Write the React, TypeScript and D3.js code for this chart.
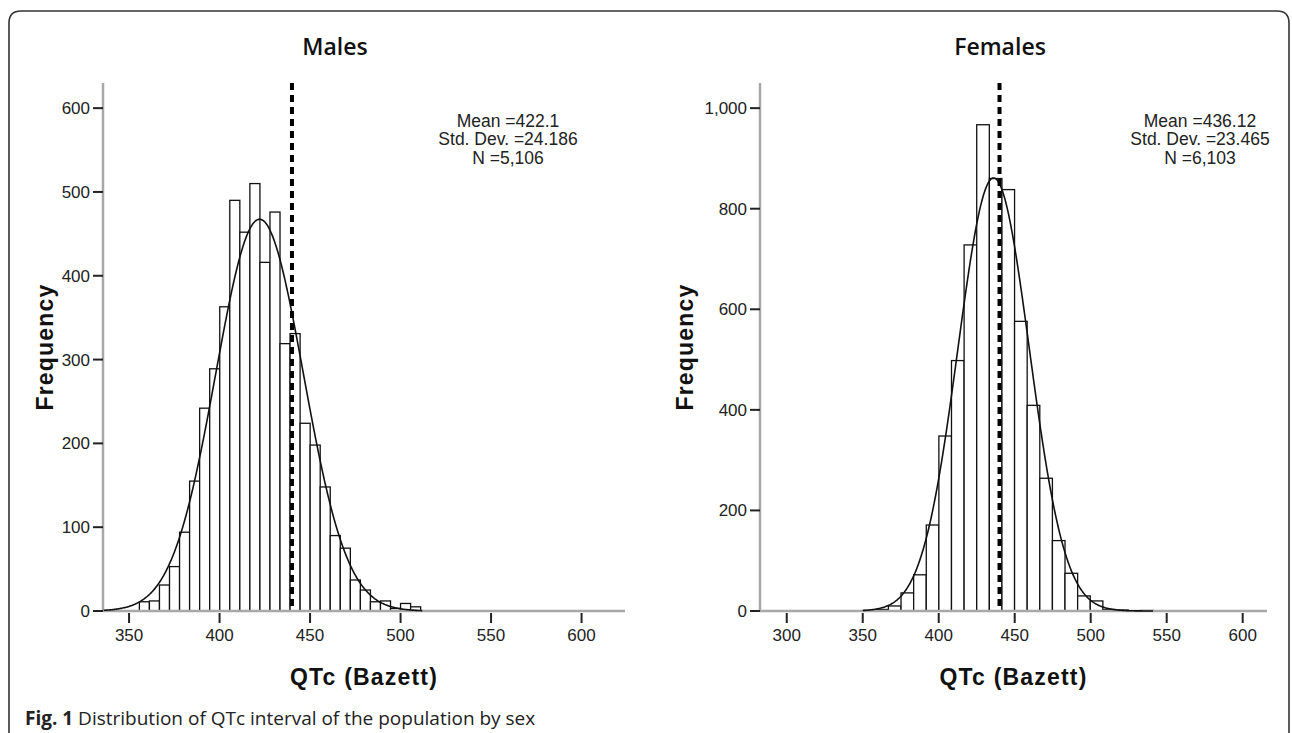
import React from "react";
import * as d3 from "d3";

const W = 1292;
const H = 733;

// histogram counts per bin
const maleBinStart = 355.7;
const maleBinWidth = 5.55;
const maleCounts = [11, 12, 31, 53, 94, 155, 242, 289, 363, 490, 452, 510, 416, 476, 319, 331, 224, 198, 148, 90, 75, 37, 25, 11, 12, 3, 9, 5];

const femaleBinStart = 350.3;
const femaleBinWidth = 8.3;
const femaleCounts = [1, 3, 10, 36, 72, 171, 348, 498, 728, 967, 860, 838, 576, 409, 264, 140, 75, 30, 20, 3, 2, 0, 1];

// mean, sd, n (used for the fitted normal curve)
const maleStats = [422.1, 24.186, 5106];
const femaleStats = [436.12, 23.465, 6103];
const maleCurveRange = [336, 512];
const femaleCurveRange = [350, 541];

const maleStatText = ["Mean =422.1", "Std. Dev. =24.186", "N =5,106"];
const femaleStatText = ["Mean =436.12", "Std. Dev. =23.465", "N =6,103"];

const maleXTicks = [350, 400, 450, 500, 550, 600];
const femaleXTicks = [300, 350, 400, 450, 500, 550, 600];
const maleYTicks = [0, 100, 200, 300, 400, 500, 600];
const femaleYTicks = [0, 200, 400, 600, 800, 1000];

const cutoff = 440;

const TOP = 83;
const BASE = 611;

type PanelProps = {
  title: string;
  titleX: number;
  left: number;
  right: number;
  xDomain: [number, number];
  yMax: number;
  xTicks: number[];
  yTicks: number[];
  binStart: number;
  binWidth: number;
  counts: number[];
  stats: number[];
  curveRange: number[];
  statText: string[];
  statX: number;
  freqX: number;
};

function Panel(p: PanelProps) {
  const x = d3.scaleLinear().domain(p.xDomain).range([p.left, p.right]);
  const y = d3.scaleLinear().domain([0, p.yMax]).range([BASE, TOP]);
  const fmt = d3.format(",");

  const [mean, sd, n] = p.stats;
  const pdf = (v: number) =>
    (n * p.binWidth) / (sd * Math.sqrt(2 * Math.PI)) * Math.exp(-((v - mean) ** 2) / (2 * sd * sd));
  const pts = d3.range(p.curveRange[0], p.curveRange[1] + 0.01, 0.5);
  const line = d3
    .line<number>()
    .x((v) => x(v))
    .y((v) => y(pdf(v)));

  const axisColor = "#a8a8a8";
  const tickFont = { fontFamily: "Liberation Sans, Arial, sans-serif", fontSize: 17 };

  return (
    <g>
      <text x={p.titleX} y={55} textAnchor="middle" fontFamily="Open Sans" fontWeight={600} fontSize={23} fill="#111">
        {p.title}
      </text>

      {/* bars */}
      {p.counts.map((c, i) => {
        const x0 = p.binStart + i * p.binWidth;
        if (c <= 0) return null;
        return (
          <rect
            key={i}
            x={x(x0)}
            y={y(c)}
            width={x(x0 + p.binWidth) - x(x0)}
            height={BASE - y(c)}
            fill="#fff"
            stroke="#111"
            strokeWidth={1.3}
          />
        );
      })}

      {/* axes */}
      <line x1={p.left} x2={p.left} y1={TOP} y2={BASE} stroke={axisColor} strokeWidth={2.5} />
      <line x1={p.left} x2={p.right} y1={BASE} y2={BASE} stroke={axisColor} strokeWidth={2.5} />

      <path d={line(pts) || ""} fill="none" stroke="#111" strokeWidth={1.6} />

      <line
        x1={x(cutoff)}
        x2={x(cutoff)}
        y1={TOP}
        y2={BASE}
        stroke="#000"
        strokeWidth={4}
        strokeDasharray="7,5"
      />

      {p.yTicks.map((t) => (
        <g key={t}>
          <line x1={p.left - 10} x2={p.left} y1={y(t)} y2={y(t)} stroke="#222" strokeWidth={2} />
          <text x={p.left - 13} y={y(t) + 6} textAnchor="end" fill="#222" {...tickFont}>
            {fmt(t)}
          </text>
        </g>
      ))}
      {p.xTicks.map((t) => (
        <g key={t}>
          <line x1={x(t)} x2={x(t)} y1={BASE + 2} y2={BASE + 12} stroke="#222" strokeWidth={2} />
          <text x={x(t)} y={641} textAnchor="middle" fill="#222" {...tickFont}>
            {t}
          </text>
        </g>
      ))}

      {p.statText.map((s, i) => (
        <text
          key={s}
          x={p.statX}
          y={126.5 + i * 18.5}
          textAnchor="middle"
          fill="#222"
          fontFamily="Liberation Sans, Arial, sans-serif"
          fontSize={17.5}
        >
          {s}
        </text>
      ))}

      <text
        x={(p.left + p.right) / 2}
        y={685}
        textAnchor="middle"
        fontFamily="Liberation Sans, Arial, sans-serif"
        fontWeight="bold"
        fontSize={23}
        letterSpacing={1.2}
        fill="#111"
      >
        QTc (Bazett)
      </text>
      <text
        transform={`translate(${p.freqX},${(TOP + BASE) / 2}) rotate(-90)`}
        textAnchor="middle"
        fontFamily="Liberation Sans, Arial, sans-serif"
        fontWeight="bold"
        fontSize={23}
        letterSpacing={1.2}
        fill="#111"
      >
        Frequency
      </text>
    </g>
  );
}

export default function App() {
  return (
    <svg
      width={W}
      height={H}
      style={{ position: "absolute", left: 0, top: 0, background: "#fff" }}
    >
      <rect width={W} height={H} fill="#fff" />
      <path
        d={`M9,${H + 2} V23 Q9,11 21,11 H1277 Q1289,11 1289,23 V${H + 2}`}
        fill="none"
        stroke="#333"
        strokeWidth={1.6}
      />
      <Panel
        title="Males"
        titleX={335}
        left={103}
        right={625}
        xDomain={[335.6, 624]}
        yMax={630}
        xTicks={maleXTicks}
        yTicks={maleYTicks}
        binStart={maleBinStart}
        binWidth={maleBinWidth}
        counts={maleCounts}
        stats={maleStats}
        curveRange={maleCurveRange}
        statText={maleStatText}
        statX={508}
        freqX={53}
      />
      <Panel
        title="Females"
        titleX={1000}
        left={760}
        right={1267}
        xDomain={[282.4, 616]}
        yMax={1050}
        xTicks={femaleXTicks}
        yTicks={femaleYTicks}
        binStart={femaleBinStart}
        binWidth={femaleBinWidth}
        counts={femaleCounts}
        stats={femaleStats}
        curveRange={femaleCurveRange}
        statText={femaleStatText}
        statX={1200}
        freqX={693}
      />
      <text x={25} y={725} fontFamily="Open Sans" fontSize={19} fill="#222">
        <tspan fontWeight="bold">Fig. 1</tspan>
        <tspan> Distribution of QTc interval of the population by sex</tspan>
      </text>
    </svg>
  );
}
